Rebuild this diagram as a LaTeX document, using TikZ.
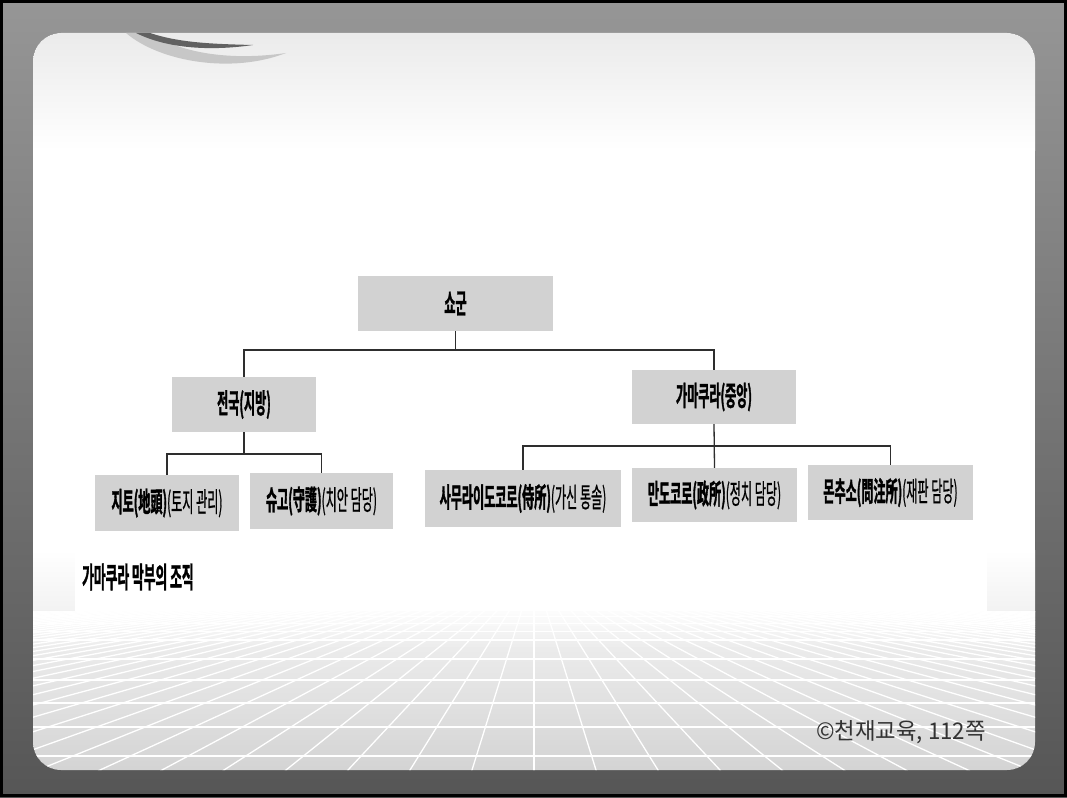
\documentclass[tikz,border=0pt]{standalone}
\usepackage{fontspec}
\newfontfamily\krB{Noto Sans CJK KR Bold}[FakeStretch=0.44,FakeBold=1.2]
\newfontfamily\krM{Noto Sans CJK KR}[FakeStretch=0.44,FakeBold=0.6]
\newfontfamily\krn{Noto Sans CJK KR}[FakeStretch=0.97]
\definecolor{boxgray}{HTML}{D2D2D2}
\definecolor{linegray}{HTML}{2E2E2E}
\definecolor{bgtop}{HTML}{969696}
\definecolor{bgbot}{HTML}{565656}
\begin{document}
\begin{tikzpicture}[x=1pt,y=-1pt,
  org/.style={fill=boxgray, draw=none, inner sep=0pt, align=center, text=black,
    font=\krB\fontsize{27.5}{29}\selectfont},
  conn/.style={draw=linegray, line width=1.3pt}]
\useasboundingbox (0,0) rectangle (1067,797);
% outer background
\fill[top color=bgtop, bottom color=bgbot] (0,0) rectangle (1067,797);
\draw[black, line width=3pt] (1.5,1.5) rectangle (1065.5,795.5);
% panel
\begin{scope}
  \clip[rounded corners=28pt] (33,33) rectangle (1035,770);
  \fill[white] (33,33) rectangle (1035,770);
  \fill[top color=black!8, bottom color=white] (33,33) rectangle (1035,150);
  \fill[top color=white, bottom color=black!5] (33,550) rectangle (1035,611);
  % scanned figure area
  \fill[white] (75,150) rectangle (987,611);
  % floor
  \fill[top color=black!5, bottom color=black!17] (33,611) rectangle (1035,770);
  \begin{scope}
    \clip (33,611) rectangle (1035,770);
    \foreach \yy/\w in {616/0.5,623/0.8,631/1.0,640/1.4,659/1.7,680/2.0,703/2.3,727/2.6,756/2.9}
      \draw[white, line width=\w pt] (33,\yy) -- (1035,\yy);
    \foreach \k in {-45,...,45}
      \draw[white, line width=1.3pt] ({534+62*\k*0.1457},600) -- ({534+62*\k*1.0503},780);
    \foreach \i in {0,...,11}
      \fill[white, opacity={0.8-0.065*\i}] (33,{611+3*\i}) rectangle (1035,{614+3*\i});
  \end{scope}
  % top swoosh
  \fill[black!22] (126,33) .. controls (160,62) and (232,74) .. (286,53)
     .. controls (238,60) and (186,56) .. (150,33) -- cycle;
  \fill[black!62] (136,33) .. controls (168,49) and (212,51) .. (253,45)
     .. controls (214,44) and (180,43) .. (150,33) -- cycle;
\end{scope}
% nodes
\node[org, minimum width=195pt, minimum height=55pt] (shogun) at (455.5,303.5) {쇼군};
\node[org, minimum width=144pt, minimum height=55pt] (jeonguk) at (244,404.5) {전국(지방)};
\node[org, minimum width=164pt, minimum height=54pt] (kama) at (714,397) {가마쿠라(중앙)};
\node[org, minimum width=144pt, minimum height=56pt] (jito) at (167,503) {지토(地頭){\krM(토지 관리)}};
\node[org, minimum width=143pt, minimum height=56pt] (shugo) at (321.5,501) {슈고(守護){\krM(치안 담당)}};
\node[org, minimum width=196pt, minimum height=57pt] (samurai) at (523,498.5) {사무라이도코로(侍所){\krM(가신 통솔)}};
\node[org, minimum width=165pt, minimum height=54pt] (mando) at (714.5,495) {만도코로(政所){\krM(정치 담당)}};
\node[org, minimum width=165pt, minimum height=55pt] (monchu) at (890.5,492.5) {몬추소(問注所){\krM(재판 담당)}};
% connectors
\coordinate (b1) at (455.5,350);
\coordinate (b2) at (244,454);
\coordinate (b3) at (714,446);
\draw[conn] (shogun.south) -- (b1);
\draw[conn] (jeonguk.north) |- (b1) -| (kama.north);
\draw[conn] (jeonguk.south) -- (b2);
\draw[conn] (jito.north) |- (b2) -| (shugo.north);
\draw[conn] (kama.south) -- (mando.north);
\draw[conn] (samurai.north) |- (b3) -| (monchu.north);
% captions
\node[anchor=west, inner sep=0pt, font=\krB\fontsize{29}{30}\selectfont] (cap) at (82,577) {가마쿠라 막부의 조직};
\node[anchor=east, inner sep=0pt, text=black!80, font=\krn\fontsize{23}{26}\selectfont] (copy) at (986,732) {©천재교육, 112쪽};
\end{tikzpicture}
\end{document}
